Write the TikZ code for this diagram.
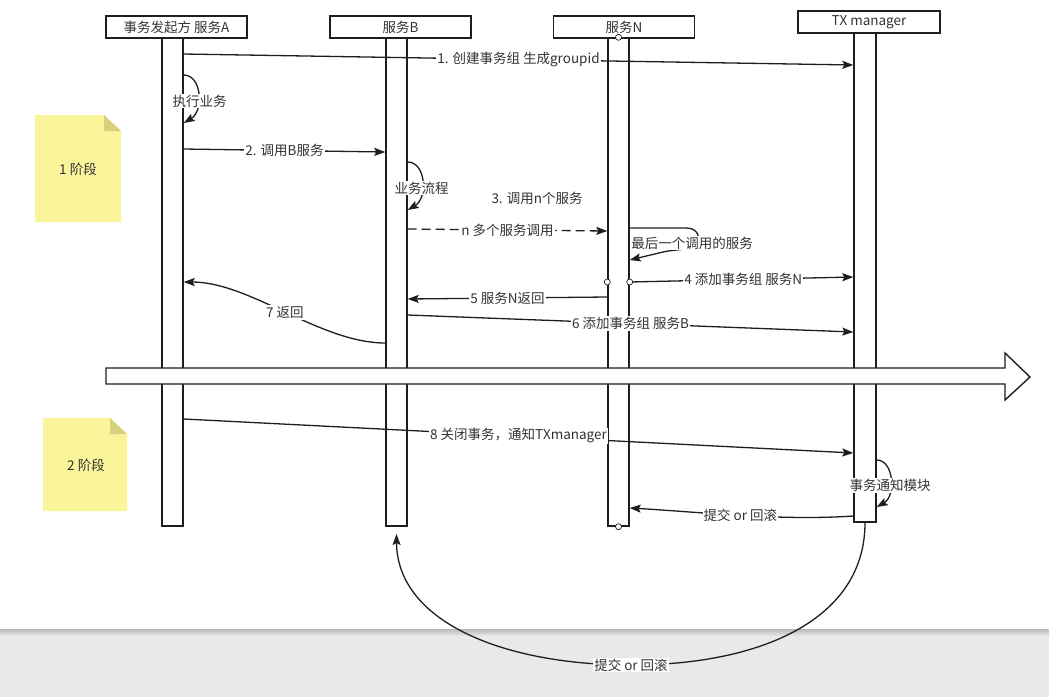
\documentclass[tikz,border=0pt]{standalone}
\usepackage{fontspec}
\setmainfont{Noto Sans CJK SC}
\usetikzlibrary{arrows.meta}
\definecolor{ink}{HTML}{1E1E1E}
\definecolor{txt}{HTML}{333333}
\definecolor{noteY}{HTML}{FAF49A}
\definecolor{noteF}{HTML}{D8D07C}
\definecolor{band}{HTML}{E9E9EC}

\begin{document}
\begin{tikzpicture}[x=1pt,y=-1pt,
  every node/.style = {font=\fontsize{13.5}{16}\selectfont, text=txt},
  head/.style = {draw=ink, line width=1.4pt, fill=white, minimum width=141pt, minimum height=22pt, inner sep=0pt},
  life/.style = {draw=ink, line width=1.4pt, fill=white, minimum width=21pt, minimum height=488pt, inner sep=0pt},
  dot/.style = {draw=ink, circle, fill=white, line width=0.7pt, minimum size=6pt, inner sep=0pt},
  msg/.style = {draw=ink, line width=1.3pt, -{Stealth[length=11pt,width=8pt,inset=2pt]}},
  lbl/.style = {fill=white, inner sep=1pt}]
  \useasboundingbox (0,0) rectangle (1049,697);
  \fill[white] (0,0) rectangle (1049,630);
  \fill[band] (0,630) rectangle (1049,697);
  \shade[top color=gray!55, bottom color=band] (0,629) rectangle (1049,636);

  % notes
  \fill[noteY] (35,115) -- (104,115) -- (121,131) -- (121,222) -- (35,222) -- cycle;
  \fill[noteF] (104,115) -- (121,131) -- (104,131) -- cycle;
  \node (s1) at (78,169) {1 阶段};
  \fill[noteY] (43,418) -- (110,418) -- (127,434) -- (127,511) -- (43,511) -- cycle;
  \fill[noteF] (110,418) -- (127,434) -- (110,434) -- cycle;
  \node (s2) at (86,465) {2 阶段};

  % lifelines
  \node[life] (a) at (172.5,282) {};
  \node[life] (b) at (396.5,282) {};
  \node[life] (n) at (618.5,282) {};
  \node[life, minimum width=22pt, minimum height=489pt] (t) at (865,277.5) {};
  \node[head] (A) at (176.5,27) {事务发起方 服务A};
  \node[head] (B) at (400.5,27) {服务B};
  \node[head] (N) at (624,27) {服务N};
  \node[head, minimum width=142pt] (T) at (869,22) {TX manager};
  \node[dot] (c0) at (n.north) {};
  \node[dot] (c9) at (n.south) {};
  \node[dot] (c1) at (n.west |- 0,282) {};
  \node[dot] (c2) at (n.east |- 0,282) {};

  % phase 1
  \path (a.east |- 0,54) edge[msg] node[lbl]{1. 创建事务组 生成groupid} (t.west |- 0,65);
  \draw[msg] (a.east |- 0,75) .. controls (202,75) and (204,111) .. (a.east |- 0,123)
    node[lbl, pos=0.6, xshift=2pt]{执行业务};
  \path (a.east |- 0,149) edge[msg] node[lbl]{2. 调用B服务} (b.west |- 0,152);
  \draw[msg] (b.east |- 0,162) .. controls (426,162) and (428,198) .. (b.east |- 0,210)
    node[lbl, pos=0.6]{业务流程};
  \node (m3) at (537,198) {3. 调用n个服务};
  \path (b.east |- 0,229) edge[msg, dash pattern=on 9pt off 5pt] node[lbl]{n 多个服务调用} (n.west |- 0,231);
  \draw[msg] (n.east |- 0,228) -- (686,228) .. controls (697,228) and (699,235) .. (699,243)
    node[lbl, xshift=-7pt]{最后一个调用的服务}
    .. controls (699,250) and (675,249) .. (663,252) -- (n.east |- 0,260);
  \path (c2) edge[msg] node[lbl]{4 添加事务组 服务N} (t.west |- 0,277);
  \path (n.west |- 0,297) edge[msg] node[lbl]{5 服务N返回} (b.east |- 0,299);
  \path (b.east |- 0,315) edge[msg] node[lbl]{6 添加事务组 服务B} (t.west |- 0,332);
  \draw[msg] (b.west |- 0,343) .. controls (320,343) and (250,282) .. (a.east |- 0,282)
    node[lbl, midway]{7 返回};

  % divider
  \draw[draw=ink, line width=1.4pt, fill=white] (106,368) -- (1005,368) -- (1005,353) -- (1030,377)
    -- (1005,400) -- (1005,384) -- (106,384) -- cycle;

  % phase 2
  \path (a.east |- 0,419) edge[msg] node[lbl]{8 关闭事务，通知TXmanager} (t.west |- 0,453);
  \draw[msg] (t.east |- 0,460) .. controls (894,460) and (896,496) .. (t.east |- 0,507)
    node[lbl, pos=0.6]{事务通知模块};
  \draw[msg] (t.west |- 0,516) .. controls (780,521) and (700,512) .. (n.east |- 0,508)
    node[lbl, midway]{提交 or 回滚};
  \draw[msg] (t.south) .. controls (865,620) and (760,665) .. (631,665)
    node[lbl]{提交 or 回滚}
    .. controls (500,665) and (397,620) .. (b.south |- 0,534);
\end{tikzpicture}
\end{document}
